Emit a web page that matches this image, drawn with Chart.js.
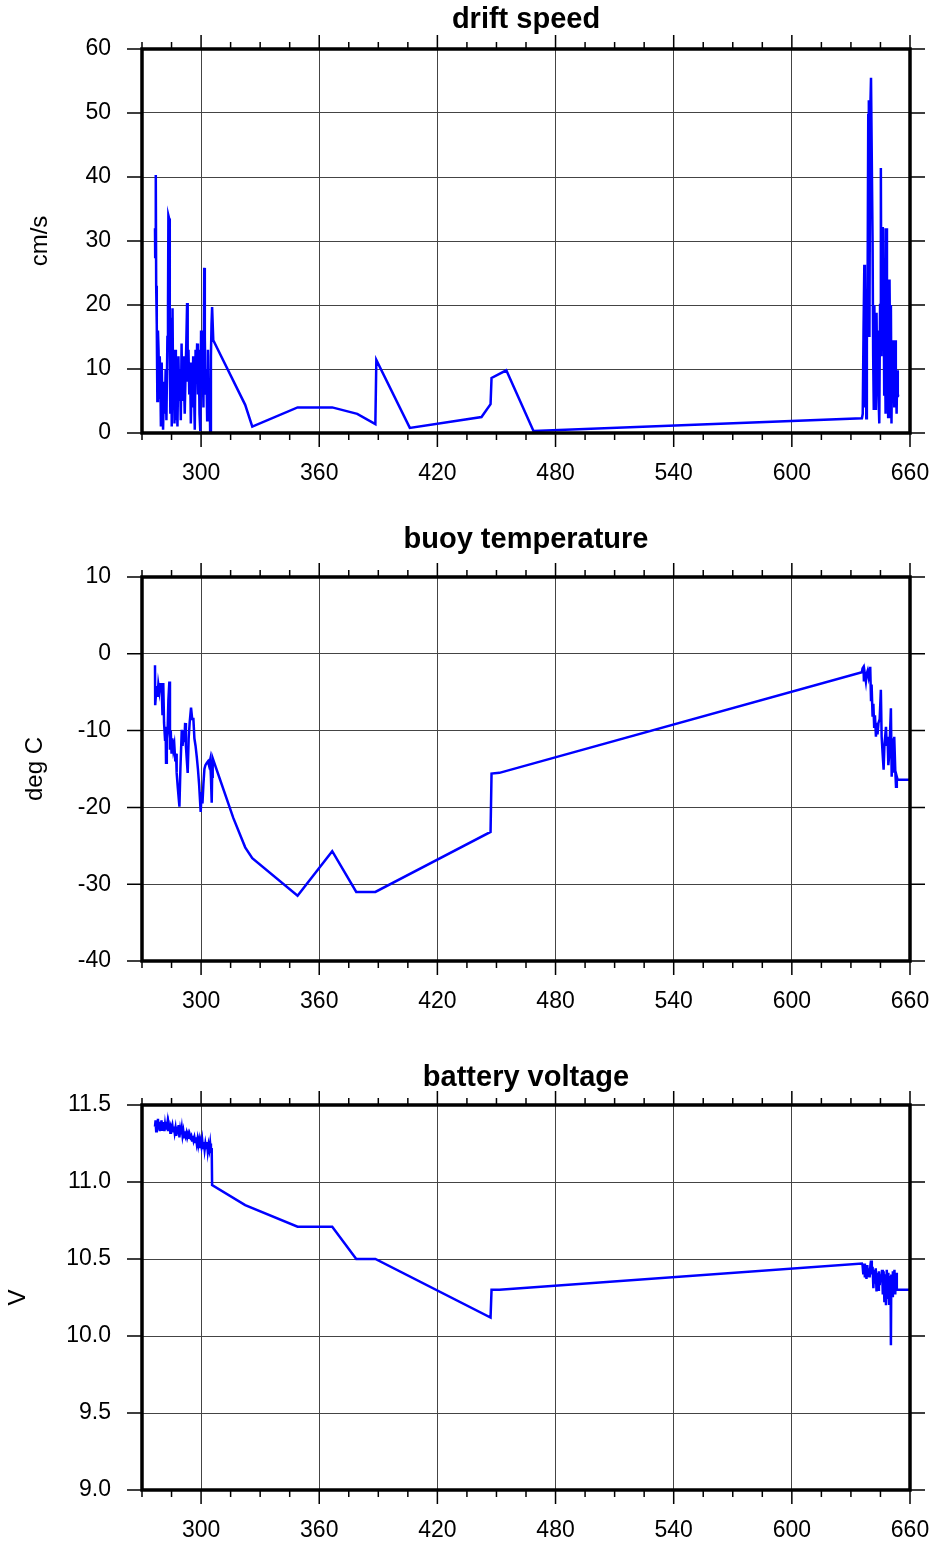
<!DOCTYPE html>
<html>
<head>
<meta charset="utf-8">
<script src="https://cdn.jsdelivr.net/npm/chart.js@4.4.1/dist/chart.umd.min.js"></script>
<style>
html,body{margin:0;padding:0;background:#fff;}
#wrap{position:relative;width:935px;height:1543px;background:#fff;}
canvas{position:absolute;left:0;}
</style>
</head>
<body>
<div id="wrap">
<canvas id="c1" width="935" height="512" style="top:0px"></canvas>
<canvas id="c2" width="935" height="528" style="top:512px"></canvas>
<canvas id="c3" width="935" height="503" style="top:1040px"></canvas>
</div>
<script>
// ---------------- data ----------------
const titles = ['drift speed', 'buoy temperature', 'battery voltage'];
const yTitles = ['cm/s', 'deg C', 'V'];

const xMinorTicks = [270,285,300,315,330,345,360,375,390,405,420,435,450,465,480,495,510,525,540,555,570,585,600,615,630,645,660];
const xLabels = [300,360,420,480,540,600,660];

const speedTicks = [0,10,20,30,40,50,60];
const tempTicks = [-40,-30,-20,-10,0,10];
const voltTicks = [9.0,9.5,10.0,10.5,11.0,11.5];

const speedDays = [276.6,276.7,277.0,277.2,277.5,277.8,278.1,278.4,278.7,279.0,279.3,279.6,280.0,280.3,280.7,281.2,281.6,282.0,282.4,282.9,283.2,283.4,283.8,284.1,284.4,284.8,285.1,285.5,285.8,286.2,286.5,286.9,287.2,287.6,288.0,288.5,288.9,289.3,289.7,290.1,290.5,290.9,291.3,291.7,292.1,292.5,292.9,293.2,293.6,294.0,294.4,294.8,295.2,295.6,296.0,296.4,296.8,297.2,297.6,298.0,298.4,298.8,299.2,299.6,300.0,300.4,300.8,301.2,301.6,301.9,302.3,302.7,303.1,303.5,303.9,304.3,304.6,305.0,305.3,305.6,306.2,
  322.4,326.0,349.0,366.6,379.3,388.5,389.0,406.0,442.4,447.0,447.5,455.0,468.8,635.6,
  636.0,636.4,636.8,637.1,637.4,637.8,638.1,638.5,638.8,639.1,639.4,639.8,640.2,640.6,641.0,641.3,641.6,641.9,642.3,642.7,643.0,643.3,643.7,644.0,644.4,644.8,645.2,645.5,645.8,646.2,646.5,646.9,647.2,647.6,647.9,648.3,648.6,648.9,649.3,649.6,650.0,650.3,650.6,651.0,651.3,651.7,652.0,652.4,652.8,653.2,653.5,653.8,654.0];
const speedValues = [32,27.5,40.3,23,17,5,16,13,5.5,12,9,1,11,6,0.5,8,3,10,2,15,19.5,34,33.5,12,3,18,1,19.5,6,11,1.5,13,2,9,1,12,5,10,2,14,5,12,8,3,9,14,20.3,8,13,6,11,1.5,8,4,12,7,0.5,13,9,14,6,13,3,0.3,16,9,12,4,25.8,15,6,10,2,13,5,8,0.2,12,17,19.7,14.5,
  4.4,1.0,4.0,4.0,3.0,1.4,11.4,0.8,2.5,4.5,8.6,9.8,0.3,2.3,
  3,16,26.3,4,22,2.3,14,26,49.7,52,15,50,55.5,55.5,30,12,3.6,20,8,3.6,18.8,10,16,6,1.5,20,41.4,12,32.2,14,32,6,20,3,32,12,24,2.5,18,24,9,20,1.5,14.5,6,12,4,14.5,9.8,3,9.8,5.6,6];

const tempDays = [276.6,276.7,277.2,277.5,277.9,278.3,278.8,279.2,279.6,280.0,280.4,280.8,281.2,281.7,282.0,282.2,282.6,283.0,283.4,283.9,284.2,284.6,285.0,285.4,285.9,286.4,286.9,287.3,287.6,288.2,289.0,289.5,290.2,290.6,291.1,291.5,291.9,292.3,292.8,293.2,293.7,294.2,294.9,295.5,296.1,296.6,297.2,297.8,298.4,299.0,299.8,300.3,300.7,301.2,301.7,302.2,302.9,303.5,304.0,304.6,305.0,305.4,305.6,305.9,
  316.4,322.4,326.0,349.0,366.6,378.8,388.5,447.0,447.5,451.5,635.6,
  635.9,636.4,636.6,637.0,637.6,638.0,638.5,639.0,639.8,640.2,640.5,641.0,641.4,641.8,642.2,642.7,643.1,643.5,644.0,644.6,645.2,645.6,646.1,646.6,647.0,647.8,648.2,648.6,649.0,649.5,650.3,650.7,651.2,651.6,652.0,652.5,652.9,653.3,653.7,660.0];
const tempValues = [-1.5,-6.7,-4.9,-4.2,-5.6,-4.0,-4.9,-3.8,-5,-4.4,-8,-3.8,-9,-11.2,-9.5,-14.2,-11,-10,-6,-3.6,-12.5,-10,-13,-11,-12.5,-11.8,-14,-13,-15.5,-17.5,-19.9,-15,-9.9,-12,-10,-11.5,-9,-12,-14,-15.5,-11,-9,-7,-8.5,-8.5,-11,-12,-13.4,-15,-17,-20.6,-18,-19.5,-16.9,-15,-14.5,-14.2,-14,-14.5,-13.8,-16,-19.4,-16,-13.6,
  -21.4,-25.2,-26.6,-31.5,-25.7,-31.0,-31.0,-23.2,-15.6,-15.5,-2.4,
  -1.9,-1.7,-3.6,-2.5,-3.6,-2.6,-2.2,-3.0,-1.7,-6.0,-4.0,-8.2,-6.5,-9.5,-8,-10.8,-9,-10.5,-9,-8.5,-4.7,-10.8,-13,-15.1,-12,-9.5,-12,-10.8,-14.5,-13,-7.1,-16.0,-11,-15.5,-10.8,-15,-17.3,-16,-16.4,-16.4];

const voltDays = [276.6,276.9,277.2,277.5,277.8,278.1,278.4,278.7,279.0,279.3,279.6,279.9,280.2,280.5,280.8,281.1,281.4,281.7,282.0,282.3,282.6,282.9,283.2,283.5,283.8,284.1,284.4,284.7,285.0,285.4,285.8,286.2,286.6,287.0,287.4,287.8,288.2,288.6,289.0,289.4,289.8,290.2,290.6,291.0,291.4,291.8,292.2,292.6,293.0,293.4,293.8,294.2,294.6,295.0,295.4,295.8,296.2,296.6,297.0,297.4,297.8,298.2,298.6,299.0,299.4,299.8,300.2,300.6,301.0,301.4,301.8,302.2,302.6,303.0,303.4,303.8,304.2,304.6,305.0,305.4,305.6,
  322.4,349.0,366.6,378.8,388.5,447.0,447.5,451.5,635.6,
  635.9,636.3,636.7,637.1,637.5,637.9,638.3,638.7,639.1,639.5,639.9,640.2,640.6,641.0,641.4,641.8,642.2,642.6,643.0,643.4,643.8,644.2,644.6,645.0,645.4,645.8,646.2,646.6,647.0,647.4,647.8,648.2,648.6,649.0,649.4,649.8,650.2,650.3,650.5,650.9,651.3,651.7,652.1,652.5,652.9,653.3,653.7,660.0];
const voltValues = [11.36,11.40,11.33,11.39,11.35,11.41,11.34,11.38,11.33,11.39,11.36,11.40,11.34,11.38,11.35,11.39,11.33,11.37,11.34,11.39,11.35,11.38,11.33,11.37,11.34,11.38,11.32,11.36,11.35,11.37,11.33,11.36,11.32,11.35,11.30,11.36,11.31,11.37,11.29,11.34,11.31,11.35,11.30,11.33,11.29,11.33,11.30,11.32,11.29,11.31,11.28,11.31,11.29,11.30,11.27,11.30,11.27,11.29,11.26,11.29,11.25,11.28,11.24,11.27,11.22,11.26,11.23,11.27,11.22,11.26,11.21,11.25,11.22,11.26,11.20,11.24,11.21,11.25,11.19,11.22,10.98,
  10.85,10.71,10.71,10.50,10.50,10.12,10.30,10.30,10.47,
  10.46,10.40,10.47,10.38,10.45,10.37,10.46,10.39,10.44,10.38,10.46,10.49,10.40,10.45,10.31,10.43,10.34,10.44,10.29,10.41,10.30,10.42,10.33,10.40,10.36,10.43,10.27,10.42,10.22,10.40,10.20,10.43,10.24,10.41,10.21,10.39,10.23,9.94,10.40,10.26,10.42,10.28,10.43,10.27,10.41,10.30,10.30,10.30];

// ---------------- drawing ----------------
const FONT = "'Liberation Sans', Arial, Helvetica, sans-serif";
const LINE_BLUE = '#0000ff';
const GRID = '#444444';

const frameTicks = {
  id: 'frameTicks',
  afterDraw(chart) {
    const ctx = chart.ctx, a = chart.chartArea;
    const x = chart.scales.x, y = chart.scales.y;
    ctx.save();
    ctx.strokeStyle = '#000';
    ctx.lineWidth = 1.5;
    ctx.beginPath();
    x.ticks.forEach(t => {
      const px = x.getPixelForValue(t.value);
      const len = (t.value % 60 === 0) ? 14 : 7;
      ctx.moveTo(px, a.bottom); ctx.lineTo(px, a.bottom + len);
      ctx.moveTo(px, a.top); ctx.lineTo(px, a.top - len);
    });
    y.ticks.forEach(t => {
      const py = y.getPixelForValue(t.value);
      ctx.moveTo(a.left - 15, py); ctx.lineTo(a.left, py);
      ctx.moveTo(a.right, py); ctx.lineTo(a.right + 15, py);
    });
    ctx.stroke();
    ctx.lineWidth = 3.5;
    ctx.strokeRect(a.left, a.top, a.right - a.left, a.bottom - a.top);
    ctx.restore();
  }
};

function makeChart(id, cfg) {
  const T = cfg.canvasTop, H = cfg.canvasHeight;
  const titleSize = 29, titleLH = titleSize * 1.2;
  const padTop = cfg.titleCenter - T - titleLH / 2;
  const padBottom = cfg.plotTop - cfg.titleCenter - titleLH / 2;
  const xAxisHeight = H - (cfg.plotBottom - T);
  const points = cfg.days.map((d, i) => ({x: d, y: cfg.values[i]}));
  return new Chart(document.getElementById(id), {
    type: 'line',
    data: { datasets: [{ data: points, borderColor: LINE_BLUE, borderWidth: 2.5, pointRadius: 0, tension: 0, fill: false }] },
    options: {
      responsive: false, animation: false, devicePixelRatio: 1,
      layout: { padding: { left: 0, right: 25, top: 0, bottom: 0 } },
      plugins: {
        legend: { display: false }, tooltip: { enabled: false },
        title: { display: true, fullSize: false, text: cfg.title, color: '#000',
                 font: { family: FONT, size: titleSize, weight: 'bold', lineHeight: 1.2 },
                 padding: { top: padTop, bottom: padBottom } }
      },
      scales: {
        x: {
          type: 'linear', min: 270, max: 660,
          afterBuildTicks: s => { s.ticks = xMinorTicks.map(v => ({value: v})); },
          afterFit: s => { s.height = xAxisHeight; s.paddingLeft = 0; s.paddingRight = 0; },
          ticks: { autoSkip: false, maxRotation: 0, padding: 27, color: '#000',
                   font: { family: FONT, size: 23 },
                   callback: v => xLabels.includes(v) ? String(v) : '' },
          grid: { drawTicks: false, lineWidth: 1,
                  color: c => (c.tick && c.tick.value % 60 === 0) ? GRID : 'rgba(0,0,0,0)' },
          border: { display: false }
        },
        y: {
          type: 'linear', min: cfg.yTicks[0], max: cfg.yTicks[cfg.yTicks.length - 1],
          afterBuildTicks: s => { s.ticks = cfg.yTicks.map(v => ({value: v})); },
          afterFit: s => { s.width = 142; s.paddingTop = 0; s.paddingBottom = 0; },
          ticks: { autoSkip: false, padding: 31, color: '#000',
                   font: { family: FONT, size: 23 },
                   callback: v => cfg.decimals ? Number(v).toFixed(cfg.decimals) : String(v) },
          grid: { drawTicks: false, lineWidth: 1, color: GRID },
          border: { display: false },
          title: { display: true, text: cfg.yTitle, color: '#000',
                   font: { family: FONT, size: 24, lineHeight: 1.2 },
                   padding: { top: cfg.yTitleCenter - 14.4, bottom: 0 } }
        }
      }
    },
    plugins: [frameTicks]
  });
}

makeChart('c1', { canvasTop: 0, canvasHeight: 512, titleCenter: 20, plotTop: 49, plotBottom: 433,
  title: titles[0], yTitle: yTitles[0], yTitleCenter: 40, yTicks: speedTicks, decimals: 0,
  days: speedDays, values: speedValues });
makeChart('c2', { canvasTop: 512, canvasHeight: 528, titleCenter: 540, plotTop: 577, plotBottom: 961,
  title: titles[1], yTitle: yTitles[1], yTitleCenter: 35, yTicks: tempTicks, decimals: 0,
  days: tempDays, values: tempValues });
makeChart('c3', { canvasTop: 1040, canvasHeight: 503, titleCenter: 1078, plotTop: 1105, plotBottom: 1490,
  title: titles[2], yTitle: yTitles[2], yTitleCenter: 18, yTicks: voltTicks, decimals: 1,
  days: voltDays, values: voltValues });
</script>
</body>
</html>
